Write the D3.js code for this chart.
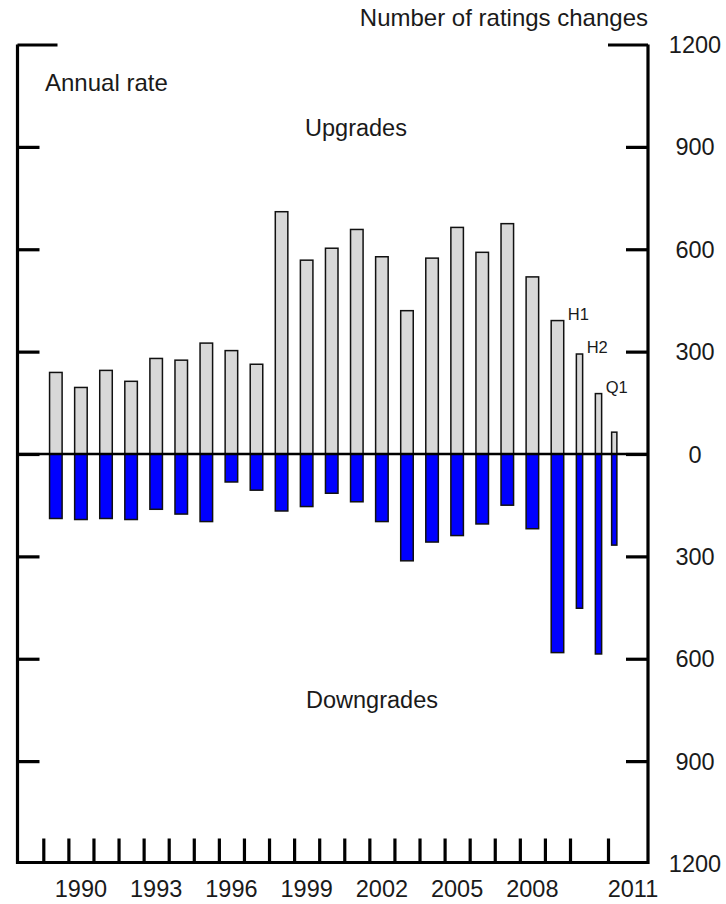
<!DOCTYPE html>
<html>
<head>
<meta charset="utf-8">
<script src="https://cdn.jsdelivr.net/npm/d3@7/dist/d3.min.js"></script>
<style>
  html, body { margin: 0; padding: 0; background: #fff; }
  svg { display: block; }
  text { font-family: "Liberation Sans", Arial, sans-serif; fill: #1a1a1a; }
</style>
</head>
<body>
<svg id="chart" width="726" height="904"></svg>
<script>
// ---- Data ----
const periods = ["1989","1990","1991","1992","1993","1994","1995","1996","1997","1998",
  "1999","2000","2001","2002","2003","2004","2005","2006","2007","2008","2009",
  "2010 H1","2010 H2","2011 Q1"];
const periodStart = [1989,1990,1991,1992,1993,1994,1995,1996,1997,1998,1999,2000,2001,
  2002,2003,2004,2005,2006,2007,2008,2009,2010,2010.5,2011];
const periodEnd = [1990,1991,1992,1993,1994,1995,1996,1997,1998,1999,2000,2001,2002,
  2003,2004,2005,2006,2007,2008,2009,2010,2010.5,2011,2011.25];
const frequency = ["A","A","A","A","A","A","A","A","A","A","A","A","A","A","A","A","A",
  "A","A","A","A","H","H","Q"];
const upgrades = [239,195,245,213,280,275,325,303,263,710,568,603,658,578,420,574,664,
  591,675,519,391,293,177,64];
const downgrades = [189,192,189,192,162,176,198,82,106,167,154,115,140,198,313,258,239,
  205,150,219,582,452,586,267];
const notes = ["", "", "", "", "", "", "", "", "", "", "", "", "", "", "", "", "", "", "",
  "", "H1", "H2", "Q1", ""];
const yearTicks = d3.range(1989, 2012);
const yearLabels = [1990,1993,1996,1999,2002,2005,2008,2011];
const yTickValues = [1200,900,600,300,0,-300,-600,-900,-1200];

// ---- Layout ----
const svg = d3.select("#chart");
const frameL = 17.5, frameR = 648, frameT = 44.5, frameB = 862.5;

const x = d3.scaleLinear()
  .domain([1989, 2010, 2011, 2012])
  .range([43.3, 570, 608, 658]);
const y = d3.scaleLinear().domain([-1200, 1200]).range([863.5, 44.5]);

const widthFrac = { A: 0.5, H: 0.33, Q: 0.42 };

const rows = periods.map((p, i) => ({
  p, s: periodStart[i], e: periodEnd[i], f: frequency[i],
  up: upgrades[i], down: downgrades[i], note: notes[i]
}));
function barW(d) { return widthFrac[d.f] * (x(d.e) - x(d.s)); }
function barX(d) { return x((d.s + d.e) / 2) - barW(d) / 2; }

// Upgrade bars
svg.append("g").selectAll("rect").data(rows).join("rect")
  .attr("x", barX).attr("width", barW)
  .attr("y", d => y(d.up)).attr("height", d => y(0) - y(d.up))
  .attr("fill", "#d8d8d8").attr("stroke", "#111").attr("stroke-width", 1.5);

// Downgrade bars
svg.append("g").selectAll("rect").data(rows).join("rect")
  .attr("x", barX).attr("width", barW)
  .attr("y", y(0)).attr("height", d => y(-d.down) - y(0))
  .attr("fill", "#0000ff").attr("stroke", "#111").attr("stroke-width", 1.5);

// Notes (H1, H2, Q1) placed at top-right of the bar
svg.append("g").selectAll("text").data(rows.filter(d => d.note)).join("text")
  .attr("x", d => barX(d) + barW(d) + 4)
  .attr("y", d => y(d.up) - 1)
  .attr("font-size", 16.5)
  .text(d => d.note);

// Zero line
svg.append("line")
  .attr("x1", frameL).attr("x2", frameR).attr("y1", y(0)).attr("y2", y(0))
  .attr("stroke", "#000").attr("stroke-width", 2.5);

// Left axis (ticks pointing inward)
const leftAxis = svg.append("g").attr("transform", `translate(${frameL},0)`)
  .call(d3.axisRight(y).tickValues(yTickValues.filter(v => v > -1200)).tickSize(22).tickFormat(""));
leftAxis.select(".domain").remove();
leftAxis.selectAll(".tick line").attr("stroke", "#000").attr("stroke-width", 3.2)
  .attr("x2", d => d === 1200 ? 40 : 22);

// Right axis (ticks pointing inward)
const rightAxis = svg.append("g").attr("transform", `translate(${frameR},0)`)
  .call(d3.axisLeft(y).tickValues(yTickValues.filter(v => v > -1200)).tickSize(22).tickFormat(""));
rightAxis.select(".domain").remove();
rightAxis.selectAll(".tick line").attr("stroke", "#000").attr("stroke-width", 3.2)
  .attr("x2", d => d === 1200 ? -40 : -22);

// Right-hand labels
svg.append("g").selectAll("text").data(yTickValues).join("text")
  .attr("x", 695).attr("y", d => y(d) + 8.5)
  .attr("text-anchor", "middle").attr("font-size", 23.5)
  .text(d => Math.abs(d));

// Bottom axis ticks
const bottomAxis = svg.append("g").attr("transform", `translate(0,${frameB})`)
  .call(d3.axisTop(x).tickValues(yearTicks).tickSize(24).tickFormat(""));
bottomAxis.select(".domain").remove();
bottomAxis.selectAll(".tick line").attr("stroke", "#000").attr("stroke-width", 3.2);

// Year labels
svg.append("g").selectAll("text").data(yearLabels).join("text")
  .attr("x", d => x(d + 0.5)).attr("y", 897)
  .attr("text-anchor", "middle").attr("font-size", 23.5)
  .text(d => d);

// Frame
svg.append("path")
  .attr("d", d3.line()([[frameL, frameT], [frameL, frameB], [frameR, frameB], [frameR, frameT]]))
  .attr("fill", "none").attr("stroke", "#000").attr("stroke-width", 3.2)
  .attr("stroke-linejoin", "miter");

// Titles
svg.append("text").attr("x", frameR).attr("y", 26).attr("text-anchor", "end")
  .attr("font-size", 24).text("Number of ratings changes");
svg.append("text").attr("x", 45).attr("y", 91)
  .attr("font-size", 24).text("Annual rate");
svg.append("text").attr("x", 356).attr("y", 136).attr("text-anchor", "middle")
  .attr("font-size", 23.5).text("Upgrades");
svg.append("text").attr("x", 372).attr("y", 708).attr("text-anchor", "middle")
  .attr("font-size", 23.5).text("Downgrades");
</script>
</body>
</html>
